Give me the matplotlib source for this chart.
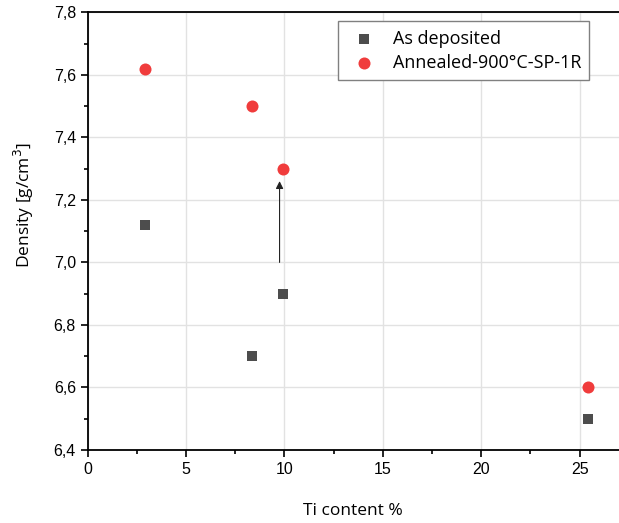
import matplotlib
matplotlib.use("Agg")
import matplotlib.pyplot as plt
from matplotlib.ticker import MultipleLocator, FuncFormatter

# Ti content (%) and density (g/cm3)
ti_content = [2.9, 8.35, 9.9, 25.4]
dens_deposited = [7.12, 6.70, 6.90, 6.50]
dens_annealed = [7.62, 7.50, 7.30, 6.60]

label_deposited = "As deposited"
label_annealed = "Annealed-900°C-SP-1R"

# arrow showing the shift for the ~10% sample
arrow_x = 9.75
arrow_from = 7.0
arrow_to = 7.26

label_font = "Open Sans"
tick_font = "Liberation Sans"

fig = plt.figure(figsize=(6.19, 5.23), dpi=100)
ax = fig.add_axes([0.1417, 0.1396, 0.8583, 0.8369])

ax.scatter(ti_content, dens_deposited, marker="s", s=60, color="#4d4d4d",
           label=label_deposited, zorder=3, linewidths=0)
ax.scatter(ti_content, dens_annealed, marker="o", s=75, color="#f03c3c",
           label=label_annealed, zorder=3, linewidths=0)

ax.annotate("", xy=(arrow_x, arrow_to), xytext=(arrow_x, arrow_from),
            arrowprops=dict(arrowstyle="-|>", color="#222222", lw=0.8,
                            mutation_scale=11, shrinkA=0, shrinkB=0))

ax.set_xlim(0, 27)
ax.set_ylim(6.4, 7.8)
ax.xaxis.set_major_locator(MultipleLocator(5))
ax.xaxis.set_minor_locator(MultipleLocator(2.5))
ax.yaxis.set_major_locator(MultipleLocator(0.2))
ax.yaxis.set_minor_locator(MultipleLocator(0.1))
ax.yaxis.set_major_formatter(FuncFormatter(lambda v, p: ("%.1f" % v).replace(".", ",")))

ax.grid(True, which="major", color="#e2e2e2", lw=1.0, zorder=0)
ax.set_axisbelow(True)

ax.tick_params(which="major", direction="out", length=5, width=1.2, labelsize=11.5)
ax.tick_params(which="minor", direction="out", length=3, width=1.2)
for lab in ax.get_xticklabels() + ax.get_yticklabels():
    lab.set_fontfamily(tick_font)

ax.spines["right"].set_visible(False)
for s in ["left", "bottom", "top"]:
    ax.spines[s].set_linewidth(1.3)

ax.set_xlabel("Ti content %", fontsize=12.5, family=label_font)
ax.set_ylabel("Density [g/cm$^3$]", fontsize=12.5, family=label_font)
ax.xaxis.set_label_coords(0.5, -0.12)
ax.yaxis.set_label_coords(-0.097, 0.56)

leg = ax.legend(loc="upper right", bbox_to_anchor=(0.944, 0.979), fancybox=False,
                edgecolor="#808080", framealpha=1, prop={"family": label_font, "size": 13},
                handletextpad=0.6, borderpad=0.45, labelspacing=0.35, handlelength=2.0,
                borderaxespad=0)
leg.get_frame().set_linewidth(1.0)

fig.savefig("out.png", dpi=100)
